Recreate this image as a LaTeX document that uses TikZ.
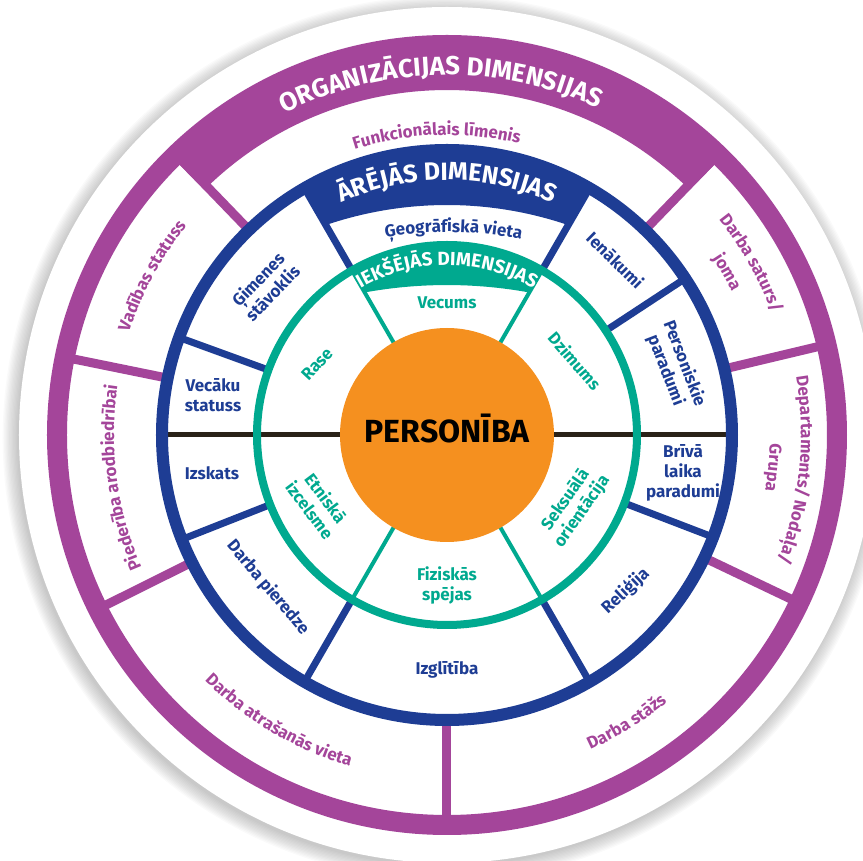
\documentclass[tikz,border=0pt]{standalone}
\usepackage{fontspec}
\setmainfont{Fira Sans}
\usetikzlibrary{decorations.text}

\definecolor{orgpurple}{HTML}{A4459A}
\definecolor{extblue}{HTML}{1E3D94}
\definecolor{intgreen}{HTML}{00A98F}
\definecolor{coreorange}{HTML}{F5901F}
\definecolor{axisdark}{HTML}{2A2218}

\newcommand\hdOrg{\fontsize{26}{26}\selectfont\bfseries}
\newcommand\hdExt{\fontsize{25}{25}\selectfont\bfseries}
\newcommand\hdInt{\fontsize{19}{19}\selectfont\bfseries}
\newcommand\wheellabel{\fontsize{17}{20}\selectfont\bfseries}

\tikzset{
  lbl/.style={font=\wheellabel, align=center, inner sep=0pt},
  extlbl/.style={lbl, text=extblue},
  intlbl/.style={lbl, text=intgreen},
  pdiv/.style={draw=orgpurple, line width=9pt},
  bdiv/.style={draw=extblue, line width=7pt},
  gdiv/.style={draw=intgreen, line width=4pt},
  curved/.style n args={3}{decorate, decoration={text along path,
      text align=center, text color=#1, text={|#2|#3}}}
}

\begin{document}
\begin{tikzpicture}[x=1pt, y=1pt]
\useasboundingbox (-447,-426) rectangle (416,435);

% soft shadow and white disc
\foreach \k in {0,...,11}
  \fill[black, opacity=0.018] (-2,-3) circle ({428+\k*1.3});
\fill[white] (0,0) circle (428);

% purple dividers (organisational ring)
\foreach \a in {46,134,168.5,206.5,270,334.5,13.4}
  \draw[pdiv] (\a:285) -- (\a:390);
% blue dividers (external ring)
\foreach \a in {33.3,60,120,160,201.5,240,300,339}
  \draw[bdiv] (\a:190) -- (\a:285);
% green dividers (internal ring)
\foreach \a in {60,120,240,300}
  \draw[gdiv] (\a:100) -- (\a:190);
% horizontal axis
\draw[axisdark, line width=5pt] (180:284) -- (0:284);

% heading bands
\fill[orgpurple] (45.3:345) arc[start angle=45.3, end angle=134.7, radius=345]
  -- (134.7:395) arc[start angle=134.7, end angle=45.3, radius=395] -- cycle;
\fill[extblue] (60:290) arc[start angle=60, end angle=120, radius=290]
  -- (120:242.4) arc[start angle=108.8, end angle=71.2, radius=376] -- cycle;
\fill[intgreen] (60:192) arc[start angle=60, end angle=120, radius=192]
  -- (120:164.6) arc[start angle=100.3, end angle=79.7, radius=460] -- cycle;

% rings and core
\draw[orgpurple, line width=20pt] (0,0) circle (390);
\draw[extblue, line width=12pt] (0,0) circle (285);
\draw[intgreen, line width=8pt] (0,0) circle (190);
\fill[coreorange] (0,0) circle (107);

\node[font=\fontsize{32}{32}\selectfont\bfseries, anchor=base, inner sep=0pt] (core) at (0,-8) {PERSONĪBA};

% band headings
\path[curved={white}{\hdOrg}{ORGANIZĀCIJAS DIMENSIJAS}]
  (141:360) arc[start angle=141, end angle=41, radius=360];
\path[curved={white}{\hdExt}{ĀRĒJĀS DIMENSIJAS}]
  (130:255) arc[start angle=130, end angle=50, radius=255];
\path[curved={white}{\hdInt}{IEKŠĒJĀS DIMENSIJAS}]
  (130:170) arc[start angle=130, end angle=50, radius=170];

% organisational dimensions
\path[curved={orgpurple}{\wheellabel}{Funkcionālais līmenis}]
  (132:300) arc[start angle=132, end angle=52, radius=300];
\path[curved={orgpurple}{\wheellabel}{Vadības statuss}]
  (181.7:334) arc[start angle=181.7, end angle=121.7, radius=334];
\path[curved={orgpurple}{\wheellabel}{Piederība arodbiedrībai}]
  (217.5:333) arc[start angle=217.5, end angle=157.5, radius=333];
\path[curved={orgpurple}{\wheellabel}{Darba atrašanās vieta}]
  (209.5:345) arc[start angle=209.5, end angle=269.5, radius=345];
\path[curved={orgpurple}{\wheellabel}{Darba stāžs}]
  (272:346) arc[start angle=272, end angle=332, radius=346];
\path[curved={orgpurple}{\wheellabel}{Departaments/ Nodaļa/}]
  (39.3:354) arc[start angle=39.3, end angle=-50.7, radius=354];
\path[curved={orgpurple}{\wheellabel}{Grupa}]
  (24.3:323) arc[start angle=24.3, end angle=-35.7, radius=323];
\path[curved={orgpurple}{\wheellabel}{Darba saturs/}]
  (59.5:347) arc[start angle=59.5, end angle=-0.5, radius=347];
\path[curved={orgpurple}{\wheellabel}{joma}]
  (60.2:319) arc[start angle=60.2, end angle=0.2, radius=319];

% external dimensions
\path[curved={extblue}{\wheellabel}{Ģeogrāfiskā vieta}]
  (0,-170) ++(107:373) arc[start angle=107, end angle=71, radius=373];
\node[extlbl, rotate=-44.5] (ienakumi) at (168.5,175) {Ienākumi};
\node[extlbl, rotate=-69] (personiskie) at (228,68) {Personiskie\\paradumi};
\node[extlbl] (brivais) at (236,-38) {Brīvā\\laika\\paradumi};
\node[extlbl, rotate=43] (religija) at (178.5,-156) {Reliģija};
\node[extlbl] (izglitiba) at (0,-235) {Izglītība};
\node[extlbl, rotate=-50] (pieredze) at (-179,-152.5) {Darba pieredze};
\node[extlbl] (izskats) at (-235,-38.5) {Izskats};
\node[extlbl] (vecaku) at (-234,40) {Vecāku\\statuss};
\node[extlbl, rotate=46] (gimenes) at (-182,149) {Ģimenes\\stāvoklis};

% internal dimensions
\node[intlbl] (vecums) at (0,132.5) {Vecums};
\node[intlbl, rotate=-49] (dzimums) at (128,74) {Dzimums};
\node[intlbl, rotate=55] (seksuala) at (127,-71) {Seksuālā\\orientācija};
\node[intlbl] (fiziskas) at (0,-150.5) {Fiziskās\\spējas};
\node[intlbl, rotate=-53] (etniska) at (-129,-69) {Etniskā\\izcelsme};
\node[intlbl, rotate=47] (rase) at (-130,71) {Rase};
\end{tikzpicture}
\end{document}
